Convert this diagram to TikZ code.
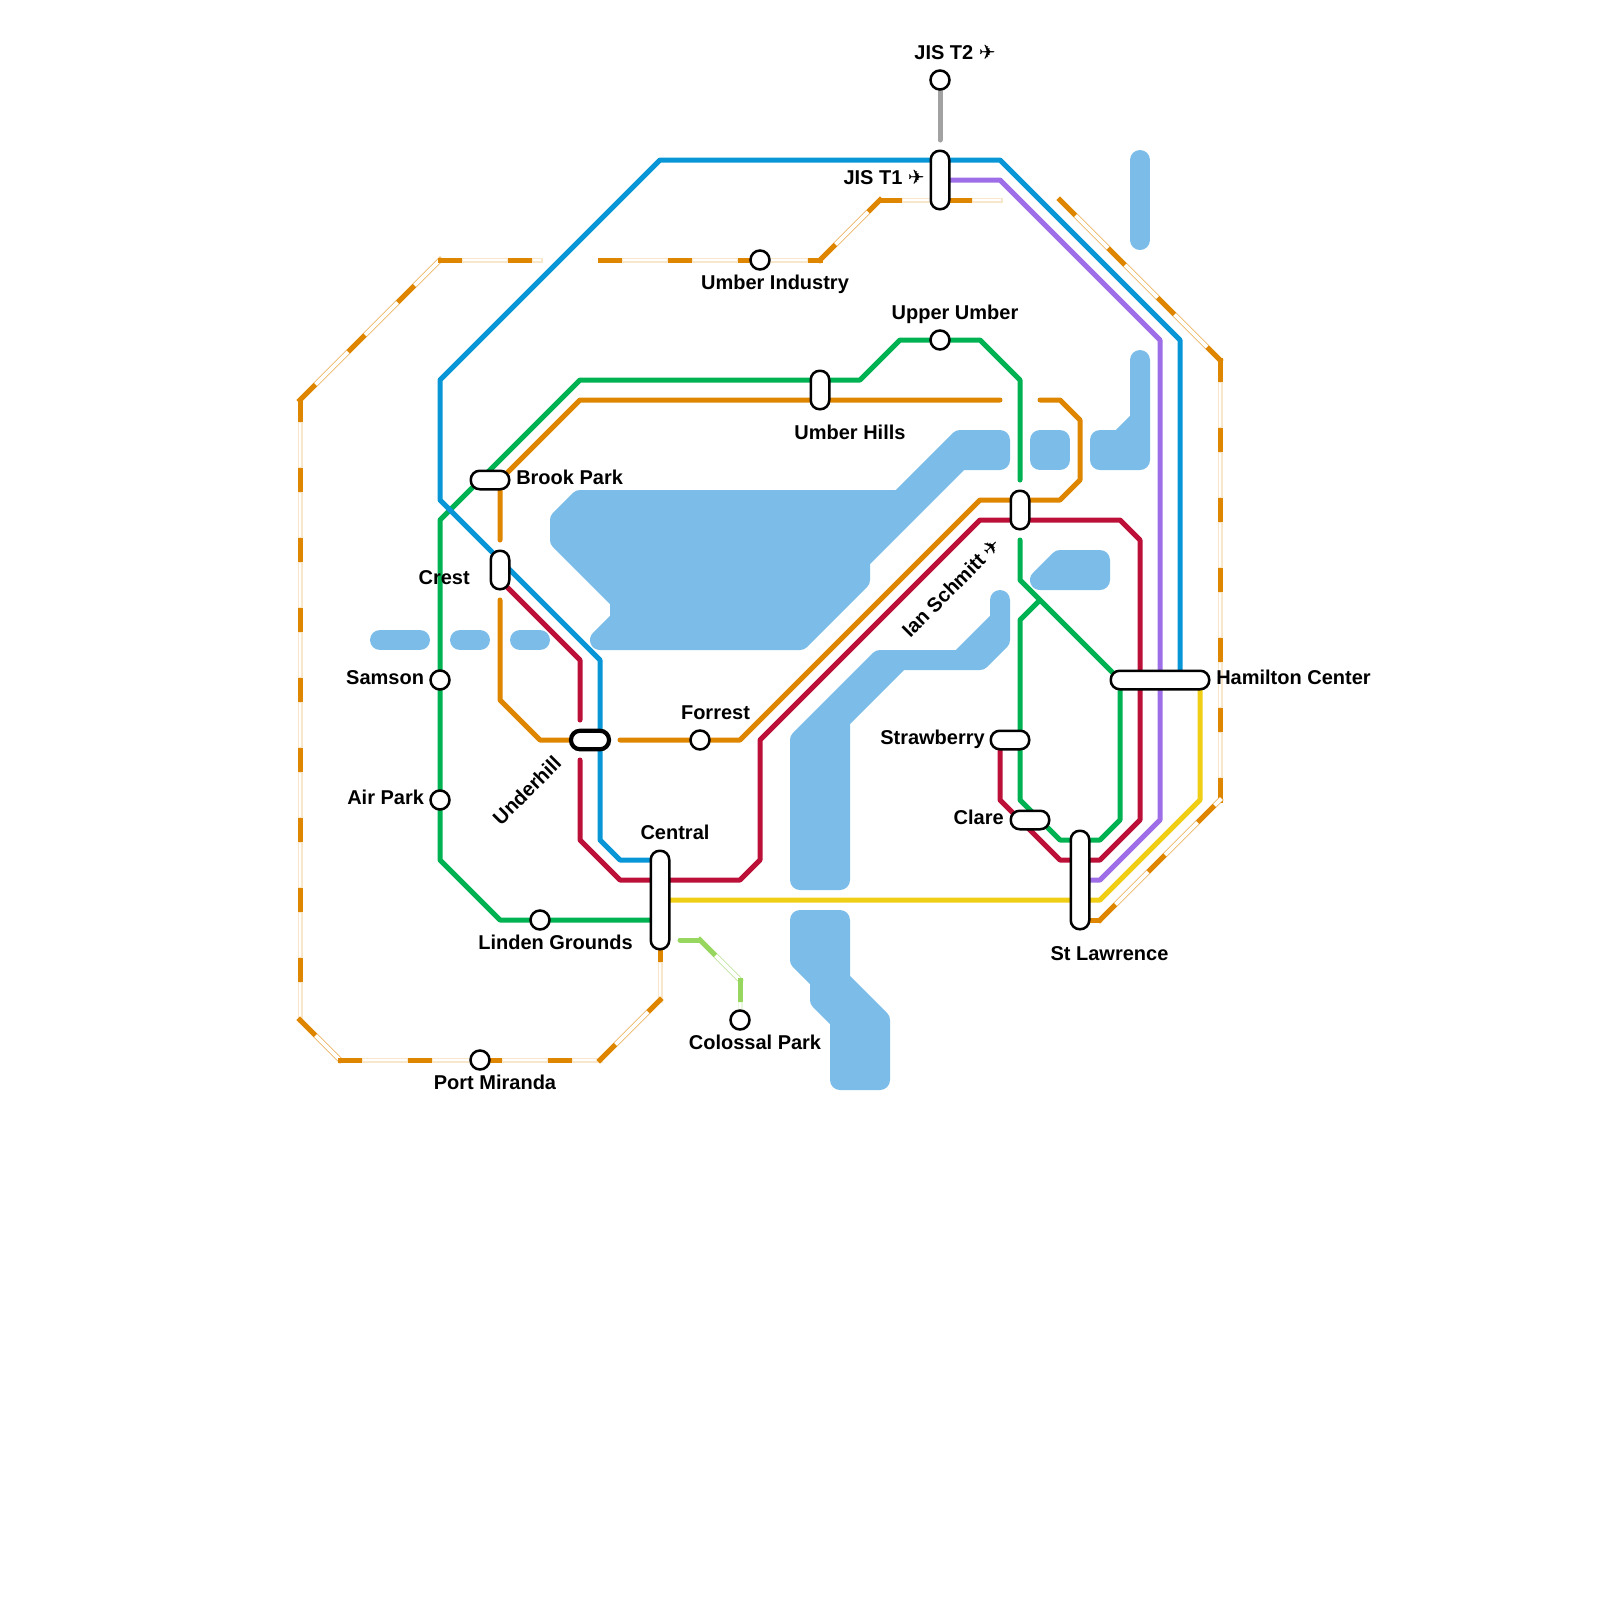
\documentclass[tikz,border=0pt]{standalone}
\usepackage{fontspec}
\setmainfont{Liberation Sans}
\newfontfamily\planefont{DejaVu Sans}
\usetikzlibrary{positioning}
\definecolor{water}{HTML}{7BBDE8}
\definecolor{lineblue}{HTML}{0896D7}
\definecolor{linegreen}{HTML}{00B251}
\definecolor{lineorange}{HTML}{DF8600}
\definecolor{linered}{HTML}{BD1038}
\definecolor{linepurple}{HTML}{9E6EE8}
\definecolor{lineyellow}{HTML}{F0CE15}
\definecolor{linegrey}{HTML}{A2A2A2}
\definecolor{linelime}{HTML}{97D65F}
\pgfdeclarelayer{maplines}
\pgfsetlayers{maplines,main}

\begin{document}
\begin{tikzpicture}[
    x=0.2cm, y=-0.2cm,
    lake/.style={draw=water, fill=water, line width=0.2cm, line join=round, line cap=round},
    track/.style={draw=#1, line width=0.05cm, line join=round, line cap=round},
    gapdash/.style={line cap=rect, dash pattern=on 0.418cm off 0.282cm, dash phase=0.459cm},
    tunnel/.style={draw=#1, line width=0.05cm, line join=round, line cap=rect,
        postaction={draw=white, line width=0.042cm, gapdash}},
    tunnelflat/.style={draw=#1, line width=0.05cm, line join=round, line cap=rect,
        postaction={draw=#1!20!white, line width=0.05cm, gapdash},
        postaction={draw=white, line width=0.022cm, gapdash}},
    stop/.style={circle, draw=black, fill=white, line width=0.025cm, minimum size=0.19cm, inner sep=0pt, outer sep=0pt},
    pill/.style 2 args={rectangle, draw=black, fill=white, line width=0.025cm, rounded corners=0.09cm,
        minimum width=#1, minimum height=#2, inner sep=0pt, outer sep=0pt},
    stationname/.style={font=\fontsize{5.69}{6.8}\selectfont\bfseries, text height=0.146cm, text depth=0.05cm, inner sep=0pt, outer sep=0pt}
]
    \useasboundingbox (0,0) rectangle (80,80);

    % stations
    \node[stop] (jist2) at (47,4) {};
    \node[pill={0.185cm}{0.585cm}] (jist1) at (47,9) {};
    \node[stop] (umberind) at (38,13) {};
    \node[stop] (upperumber) at (47,17) {};
    \node[pill={0.185cm}{0.385cm}] (umberhills) at (41,19.5) {};
    \node[pill={0.385cm}{0.185cm}] (brookpark) at (24.5,24) {};
    \node[pill={0.185cm}{0.385cm}] (crest) at (25,28.5) {};
    \node[pill={0.185cm}{0.385cm}] (ianschmitt) at (51,25.5) {};
    \node[stop] (samson) at (22,34) {};
    \node[pill={0.985cm}{0.185cm}] (hamilton) at (58,34) {};
    \node[pill={0.38cm}{0.185cm}, line width=0.042cm] (underhill) at (29.5,37) {};
    \node[stop] (forrest) at (35,37) {};
    \node[pill={0.385cm}{0.185cm}] (strawberry) at (50.5,37) {};
    \node[stop] (airpark) at (22,40) {};
    \node[pill={0.385cm}{0.185cm}] (clare) at (51.5,41) {};
    \node[pill={0.185cm}{0.985cm}] (central) at (33,45) {};
    \node[pill={0.185cm}{0.985cm}] (stlawrence) at (54,44) {};
    \node[stop] (linden) at (27,46) {};
    \node[stop] (colossal) at (37,51) {};
    \node[stop] (portmiranda) at (24,53) {};

    % names
    \node[stationname, above=0.062cm of jist2, xshift=0.15cm] (jist2name) {JIS T2 {\planefont ✈}};
    \node[stationname, left=0.06cm of jist1] (jist1name) {JIS T1 {\planefont ✈}};
    \node[stationname, below=0.052cm of umberind, xshift=0.15cm] (umberindname) {Umber Industry};
    \node[stationname, above=0.062cm of upperumber, xshift=0.15cm] (upperumbername) {Upper Umber};
    \node[stationname, below=0.157cm of umberhills, xshift=0.3cm] (umberhillsname) {Umber Hills};
    \node[stationname, right=0.07cm of brookpark] (brookparkname) {Brook Park};
    \node[stationname, left=0.21cm of crest, yshift=-0.1cm] (crestname) {Crest};
    \node[stationname, rotate=45] (ianschmittname) at (47.65,29.45) {Ian Schmitt {\planefont ✈}};
    \node[stationname, left=0.065cm of samson] (samsonname) {Samson};
    \node[stationname, right=0.07cm of hamilton] (hamiltonname) {Hamilton Center};
    \node[stationname, rotate=45] (underhillname) at (26.42,39.6) {Underhill};
    \node[stationname, above=0.062cm of forrest, xshift=0.155cm] (forrestname) {Forrest};
    \node[stationname, left=0.06cm of strawberry] (strawberryname) {Strawberry};
    \node[stationname, left=0.065cm of airpark] (airparkname) {Air Park};
    \node[stationname, left=0.07cm of clare] (clarename) {Clare};
    \node[stationname, above=0.067cm of central, xshift=0.15cm] (centralname) {Central};
    \node[stationname, below=0.167cm of stlawrence, xshift=0.295cm] (stlawrencename) {St Lawrence};
    \node[stationname, below=0.052cm of linden, xshift=0.155cm] (lindenname) {Linden Grounds};
    \node[stationname, below=0.052cm of colossal, xshift=0.15cm] (colossalname) {Colossal Park};
    \node[stationname, below=0.052cm of portmiranda, xshift=0.15cm] (portmirandaname) {Port Miranda};

    % free ends of the lines
    \coordinate (greystop) at (47,7);
    \coordinate (redstop) at (29,36);
    \coordinate (redstart) at (29,38);
    \coordinate (greenstop) at (51,24);
    \coordinate (greenstart) at (51,27);
    \coordinate (orangestop) at (50,20);
    \coordinate (orangeturn) at (25,27);
    \coordinate (orangeback) at (25,30);
    \coordinate (orangeeast) at (31,37);
    \coordinate (orangefar) at (52,20);
    \coordinate (outertop) at (53,10);
    \coordinate (outerwest) at (27,13);
    \coordinate (outereast) at (30,13);
    \coordinate (outerjis) at (50,10);
    \coordinate (limestart) at (34,47);

    \begin{pgfonlayer}{maplines}
        % water
        \draw[lake] (57,8) -- (57,12);
        \draw[lake] (57,18) -- (57,23) -- (55,23) -- (55,22) -- (56,22) -- (57,21) -- cycle;
        \draw[lake] (52,22) -- (53,22) -- (53,23) -- (52,23) -- cycle;
        \draw[lake] (29,25) -- (45,25) -- (48,22) -- (50,22) -- (50,23) -- (48,23) -- (43,28) -- (43,29) -- (40,32) -- (30,32) -- (31,31) -- (31,30) -- (28,27) -- (28,26) -- cycle;
        \draw[lake] (19,32) -- (21,32);
        \draw[lake] (23,32) -- (24,32);
        \draw[lake] (26,32) -- (27,32);
        \draw[lake] (52,29) -- (55,29) -- (55,28) -- (53,28) -- cycle;
        \draw[lake] (50,30) -- (50,32) -- (49,33) -- (45,33) -- (42,36) -- (42,44) -- (40,44) -- (40,37) -- (44,33) -- (48,33) -- (50,31) -- cycle;
        \draw[lake] (40,46) -- (42,46) -- (42,49) -- (44,51) -- (44,54) -- (42,54) -- (42,51) -- (41,50) -- (41,49) -- (40,48) -- cycle;

        % outer line, in tunnel
        \draw[tunnel=lineorange] (outertop) -- (61,18);
        \draw[tunnelflat=lineorange] (61,18) -- (61,40);
        \draw[tunnel=lineorange] (55,46) -- (61,40);
        \draw[track=lineorange] (stlawrence |- 55,46) -- (55,46);
        \draw[tunnel=lineorange] (15,20) -- (22,13);
        \draw[tunnelflat=lineorange] (22,13) -- (outerwest);
        \draw[tunnelflat=lineorange] (15,20) -- (15,51);
        \draw[tunnel=lineorange] (15,51) -- (17,53);
        \draw[tunnelflat=lineorange] (17,53) -- (30,53);
        \draw[tunnelflat=lineorange] (central |- 33,47) -- (33,50);
        \draw[tunnel=lineorange] (30,53) -- (33,50);
        \draw[tunnelflat=lineorange] (outereast) -- (41,13);
        \draw[tunnel=lineorange] (41,13) -- (44,10);
        \draw[tunnelflat=lineorange] (44,10) -- (outerjis);

        % lines
        \draw[track=linegrey] (jist2) -- (greystop);
        \draw[track=linegreen] (central |- 25,46) -- (25,46) -- (22,43) -- (22,26) -- (29,19) -- (43,19) -- (45,17) -- (49,17) -- (51,19) -- (greenstop);
        \draw[track=linegreen] (greenstart) -- (51,29) -- (56,34) -- (56,41) -- (55,42) -- (53,42) -- (51,40) -- (51,31) -- (52,30);
        \draw[track=lineorange] (orangestop) -- (29,20) -- (25,24) -- (orangeturn);
        \draw[track=lineorange] (orangeback) -- (25,35) -- (27,37) -- (underhill);
        \draw[track=lineorange] (orangeeast) -- (37,37) -- (49,25) -- (53,25) -- (54,24) -- (54,21) -- (53,20) -- (orangefar);
        \draw[track=linered] (crest |- 25,29) -- (29,33) -- (redstop);
        \draw[track=linered] (redstart) -- (29,42) -- (31,44) -- (37,44) -- (38,43) -- (38,37) -- (49,26) -- (56,26) -- (57,27) -- (57,41) -- (55,43) -- (53,43) -- (50,40) -- (50,40 |- strawberry);
        \draw[track=linepurple] (jist1) -- (50,9) -- (58,17) -- (58,41) -- (55,44) -- (stlawrence);
        \draw[track=lineblue] (central |- 31,43) -- (31,43) -- (30,42) -- (30,33) -- (22,25) -- (22,19) -- (33,8) -- (50,8) -- (59,17) -- (59,17 |- hamilton);
        \draw[track=lineyellow] (central) -- (55,45) -- (60,40) -- (60,40 |- hamilton);
        \draw[track=linelime] (limestart) -- (35,47);
        \draw[tunnel=linelime] (35,47) -- (37,49);
        \draw[tunnelflat=linelime] (37,49) -- (colossal);
    \end{pgfonlayer}
\end{tikzpicture}
\end{document}
